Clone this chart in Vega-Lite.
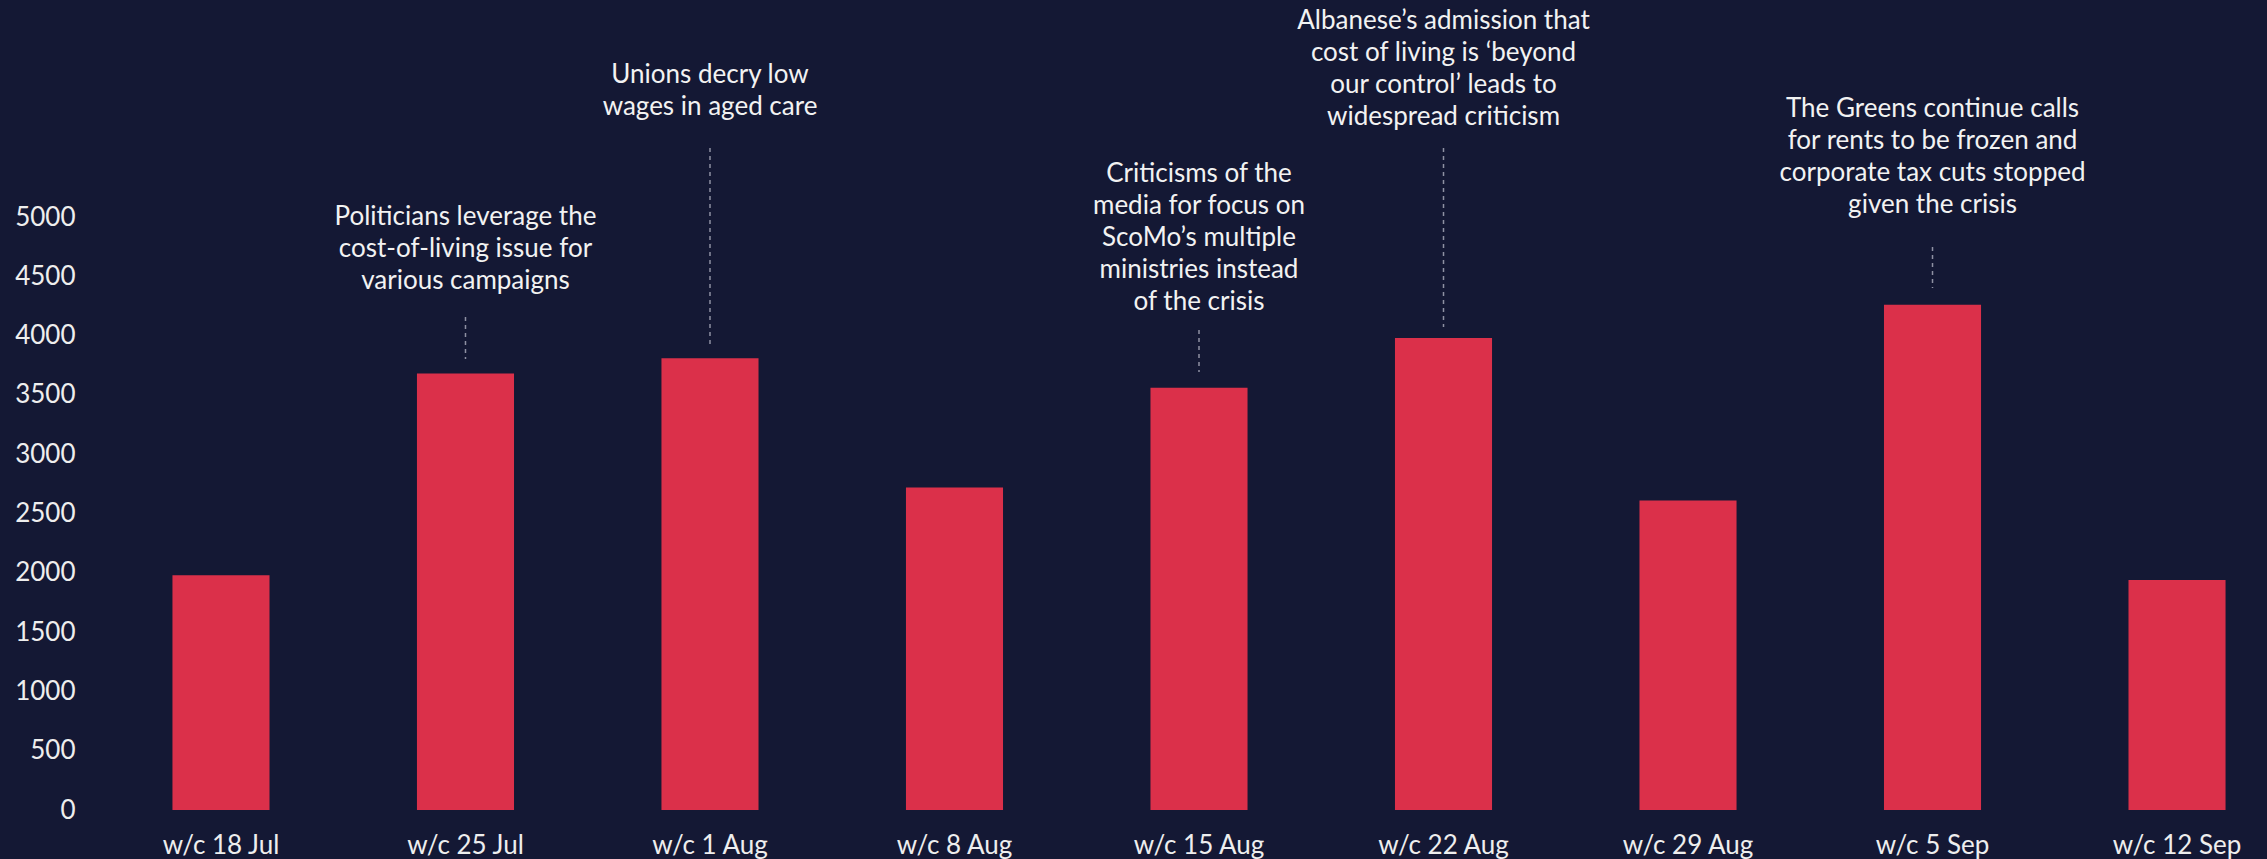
{
  "$schema": "https://vega.github.io/schema/vega-lite/v6.json",
  "autosize": {"type": "none"},
  "width": 2102,
  "height": 810,
  "padding": {"left": 148, "top": 0, "right": 17, "bottom": 49},
  "background": "#141834",
  "config": {
    "view": {"stroke": null},
    "font": "Lato",
    "axis": {"labelFont": "Lato", "labelColor": "#EEEEEE", "labelFontSize": 26, "domain": false, "ticks": false, "grid": false, "title": null}
  },
  "datasets": {
    "weeks": [
      {"week": "w/c 18 Jul", "mentions": 1980},
      {"week": "w/c 25 Jul", "mentions": 3680},
      {"week": "w/c 1 Aug", "mentions": 3810},
      {"week": "w/c 8 Aug", "mentions": 2720},
      {"week": "w/c 15 Aug", "mentions": 3560},
      {"week": "w/c 22 Aug", "mentions": 3980},
      {"week": "w/c 29 Aug", "mentions": 2610},
      {"week": "w/c 5 Sep", "mentions": 4260},
      {"week": "w/c 12 Sep", "mentions": 1940}
    ],
    "notes": [
      {"week": "w/c 25 Jul", "note": "Politicians leverage the\ncost-of-living issue for\nvarious campaigns", "textAt": 4933, "lineTop": 4157, "lineBottom": 3803},
      {"week": "w/c 1 Aug", "note": "Unions decry low\nwages in aged care", "textAt": 6130, "lineTop": 5582, "lineBottom": 3895},
      {"week": "w/c 15 Aug", "note": "Criticisms of the\nmedia for focus on\nScoMo’s multiple\nministries instead\nof the crisis", "textAt": 5295, "lineTop": 4047, "lineBottom": 3693},
      {"week": "w/c 22 Aug", "note": "Albanese’s admission that\ncost of living is ‘beyond\nour control’ leads to\nwidespread criticism", "textAt": 6585, "lineTop": 5582, "lineBottom": 4073},
      {"week": "w/c 5 Sep", "note": "The Greens continue calls\nfor rents to be frozen and\ncorporate tax cuts stopped\ngiven the crisis", "textAt": 5843, "lineTop": 4747, "lineBottom": 4401}
    ]
  },
  "encoding": {
    "x": {
      "field": "week", "type": "nominal", "sort": null,
      "scale": {"paddingInner": 0.603, "paddingOuter": 0.1},
      "axis": {"labelAngle": 0, "labelPadding": 22, "labelBaseline": "top"}
    }
  },
  "layer": [
    {
      "data": {"name": "weeks"},
      "mark": {"type": "bar", "color": "#DB304A"},
      "encoding": {
        "y": {
          "field": "mentions", "type": "quantitative",
          "scale": {"domain": [0, 6830], "nice": false, "zero": true},
          "axis": {"values": [0, 500, 1000, 1500, 2000, 2500, 3000, 3500, 4000, 4500, 5000], "format": "d", "labelPadding": 73}
        }
      }
    },
    {
      "data": {"name": "notes"},
      "mark": {"type": "rule", "color": "#8E90A2", "strokeWidth": 1.5, "strokeDash": [4, 4]},
      "encoding": {
        "y": {"field": "lineTop", "type": "quantitative"},
        "y2": {"field": "lineBottom"}
      }
    },
    {
      "data": {"name": "notes"},
      "mark": {"type": "text", "lineBreak": "\n", "fontSize": 26, "lineHeight": 32, "color": "#F2F2F2", "align": "center", "baseline": "alphabetic"},
      "encoding": {
        "y": {"field": "textAt", "type": "quantitative"},
        "text": {"field": "note"}
      }
    }
  ]
}
